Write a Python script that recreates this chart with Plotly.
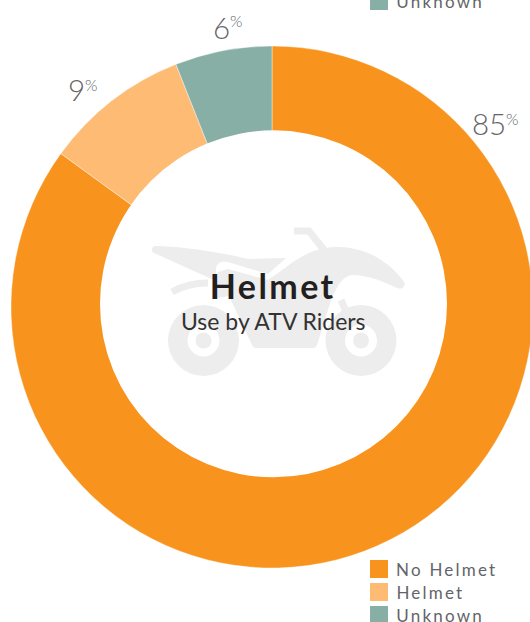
import plotly.graph_objects as go

# Helmet use among ATV riders, share of riders in percent
labels = ["No Helmet", "Helmet", "Unknown"]
values = [85, 9, 6]
colors = ["#F8931D", "#FDBB74", "#88AFA5"]

W, H = 534, 622
CX, CY, R = 272, 307, 261
ICON = "#EDEDED"
GREY = "#636468"
LEGEND_TRACK = 2.2
TITLE_TRACK = 2.4


def px(x):
    return x / W


def py(y):
    return 1 - y / H


def path(cmds):
    """Build an SVG path in paper units from pixel-based commands."""
    out = []
    for c in cmds:
        if c == "Z":
            out.append("Z")
        else:
            op, *pts = c
            out.append(op + " ".join(f"{px(x):.5f},{py(y):.5f}" for x, y in pts))
    return " ".join(out)


def circle(cx, cy, r, color):
    return dict(type="circle", xref="paper", yref="paper", layer="above",
                x0=px(cx - r), x1=px(cx + r), y0=py(cy + r), y1=py(cy - r),
                fillcolor=color, line_width=0)


def fill(cmds, color=ICON):
    return dict(type="path", xref="paper", yref="paper", layer="above",
                path=path(cmds), fillcolor=color, line_width=0)


def stroke(cmds, width, color=ICON):
    return dict(type="path", xref="paper", yref="paper", layer="above",
                path=path(cmds), line=dict(color=color, width=width))


shapes = [
    # inner disc of the ring, sits slightly above the ring's centre
    circle(273.5, 303.8, 173.5, "white"),
    # rear fender and seat
    fill([("M", (155, 246)), ("C", (175, 246), (215, 251), (248, 259)),
          ("L", (286, 258)), ("L", (268, 274)), ("L", (228, 262)),
          ("C", (220, 260), (216, 264), (216, 270)), ("L", (216, 281)),
          ("L", (154, 253)), ("C", (151, 251), (151, 247), (155, 246)), "Z"]),
    # frame, tank and front fender
    fill([("M", (228, 269)), ("L", (268, 280)), ("L", (285, 268)),
          ("C", (300, 256), (315, 248), (335, 247)),
          ("C", (365, 246), (390, 262), (404, 282)),
          ("C", (406, 286), (402, 290), (397, 288)),
          ("C", (385, 282), (368, 275), (352, 275)),
          ("C", (343, 276), (338, 285), (332, 297)),
          ("L", (317, 345)), ("C", (316, 347), (315, 348), (313, 348)),
          ("L", (257, 348)), ("C", (254, 348), (253, 347), (252, 345)),
          ("L", (229, 296)), ("L", (217, 298)), ("L", (218, 272)), "Z"]),
    # rear mudguard arc, handlebar and front fork
    stroke([("M", (172, 292)), ("C", (182, 286), (195, 283), (208, 283))], 7),
    stroke([("M", (294, 231)), ("L", (309, 231)), ("L", (324, 250))], 7),
    stroke([("M", (341, 300)), ("L", (349, 318))], 7),
    # wheels
    circle(203.5, 340.5, 35.5, ICON), circle(203.5, 340.5, 16, "white"), circle(203.5, 340.5, 8, ICON),
    circle(361, 340.5, 35.5, ICON), circle(361, 340.5, 16, "white"), circle(361, 340.5, 8, ICON),
]

annotations = []


def text(x, y, s, size, color, anchor="left", weight=400, family="Lato"):
    annotations.append(dict(xref="paper", yref="paper", x=px(x), y=py(y), text=s,
                            showarrow=False, xanchor=anchor, yanchor="middle",
                            font=dict(family=family, size=size, color=color, weight=weight)))


# legend block, repeated at the top and bottom edges of the page
for offset in (-614, 0):
    for i, (name, color) in enumerate(zip(labels, colors)):
        top = 560 + 23 * i + offset
        shapes.append(dict(type="rect", xref="paper", yref="paper", layer="above",
                           x0=px(370), x1=px(388), y0=py(top + 18), y1=py(top),
                           fillcolor=color, line_width=0))
        # tracking is applied after layout and spreads the text from its centre
        text(394 + len(name) * LEGEND_TRACK / 2, top + 9.5, name, 17, GREY)

# value labels around the ring
for value, (x, y, sx, sy) in zip(values, [(470, 123, 504, 118), (65.5, 89, 83, 85), (210.5, 27, 228, 21)]):
    text(x, y, str(value), 29.5, GREY, weight=300)
    text(sx, sy, "%", 16, GREY, weight=300)

# centre title
text(208 + 6 * TITLE_TRACK / 2, 285, "Helmet", 34, "#231F20", weight=700)
text(273.5, 321, "Use by ATV Riders", 23, "#333333", anchor="center")

fig = go.Figure(go.Pie(
    labels=labels,
    values=values,
    hole=0.6,
    sort=False,
    direction="clockwise",
    rotation=0,
    textinfo="none",
    marker=dict(colors=colors, line=dict(color="white", width=0.4)),
    domain=dict(x=[px(CX - R), px(CX + R)], y=[py(CY + R), py(CY - R)]),
))

fig.update_layout(
    width=W, height=H,
    margin=dict(l=0, r=0, t=0, b=0),
    paper_bgcolor="white",
    showlegend=False,
    shapes=shapes,
    annotations=annotations,
)

# Tracked legend and title text, and no scrollbars for the slightly wider ring
post = """
document.documentElement.style.overflow = 'hidden';
document.body.style.overflow = 'hidden';
document.querySelectorAll('.annotation-text').forEach(function (t) {
  var s = t.textContent;
  if (s === 'No Helmet' || s === 'Helmet' || s === 'Unknown') {
    t.style.letterSpacing = (t.style.fontSize === '34px' ? %s : %s) + 'px';
  }
});
""" % (TITLE_TRACK, LEGEND_TRACK)
fig.write_html("out.html", post_script=post, config=dict(displayModeBar=False))
